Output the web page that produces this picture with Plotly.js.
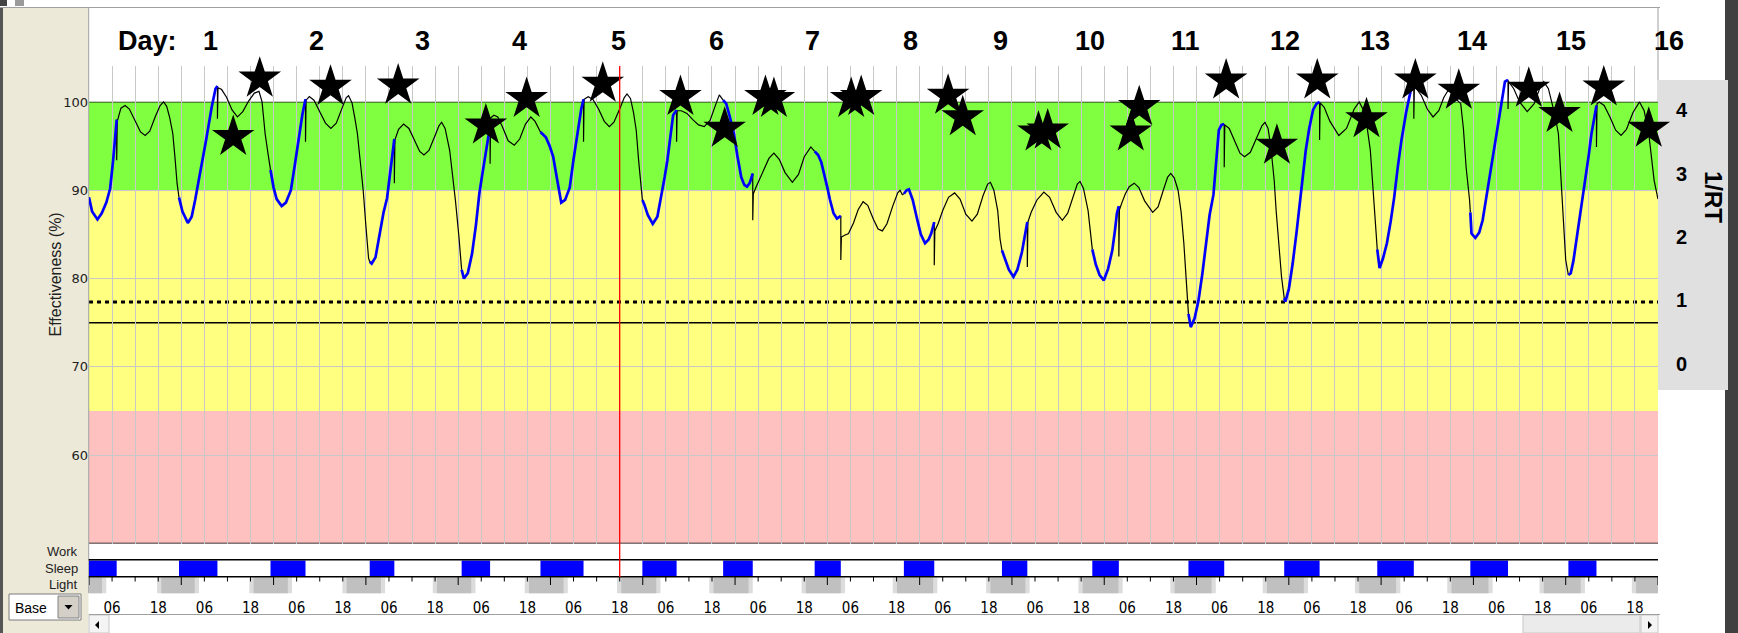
<!DOCTYPE html>
<html><head><meta charset="utf-8">
<script src="https://cdn.plot.ly/plotly-3.0.1.min.js"></script>
<style>html,body{margin:0;padding:0;background:#fff;}#chart{width:1738px;height:633px;}</style>
</head><body><div id="chart"></div>
<script>
// ---------------- data ----------------
const curveHours = [
0,0.8,2.2,3.3,4.5,5.5,6.3,7.0,7.2, 7.2,7.35,
8.3,9.4,10.5,12,13.4,14.6,15.8,17.2,18.5,19.4,20.2,21.0,21.8,22.4,22.9,23.4,
24.3,25.7,26.7,27.6,28.6,29.5,30.5,31.9,32.9,33.4, 33.4,33.55,
34.5,35.8,37.2,38.6,40.0,41.5,43.0,44.2,45.0,45.8,46.6,47.2,
48.0,48.8,50.1,51.2,52.5,53.5,54.5,55.5,56.3, 56.3,56.45,
57.3,58.5,60.0,61.5,62.9,64.3,65.8,66.9,67.5,68.4,69.2,69.8,70.6,71.3,72.0,72.7,73.0,
73.5,74.5,75.6,76.6,77.5,78.4,79.4, 79.4,79.55,
80.5,81.8,83.2,84.7,86.0,87.1,88.4,90.0,91.0,91.7,92.6,93.8,94.6,95.3,96.2,96.9,
97.5,98.5,99.6,100.6,101.5,102.2,102.9,103.9,104.3, 104.3,104.45,
105.3,106.3,107.5,109.0,110.6,112.0,113.5,114.9,116.0,117.4,
118.8,119.8,120.7,121.7,122.8,123.8,125.0,126.0,127.2,128.0,128.6, 128.6,128.75,
129.8,131.0,132.5,134.0,135.3,136.5,138.0,139.2,139.9,140.8,141.6,142.3,142.9,143.5,143.9,
144.4,145.3,146.6,147.8,149.0,149.7,150.4,151.2,151.9,152.8, 152.8,152.95,
154.0,155.5,157.0,158.5,160.0,161.5,162.8,163.9,164.9,
165.7,166.6,167.7,168.6,169.6,170.4,171.1,171.8,172.6, 172.6,172.75,
173.5,174.4,175.4,176.8,178.1,179.5,181.0,182.9,184.5,186.0,187.7,188.7,
189.6,190.4,191.2,192.0,192.7,193.6,194.5,195.5, 195.5,195.65,
196.5,197.5,198.8,200.0,201.3,202.5,204.0,205.2,206.3,207.5,209.0,210.3,210.9,211.5,211.9,
212.6,213.2,214.2,215.2,216.3,217.4,218.3,219.0,219.8, 219.8,219.95,
220.8,222.0,223.5,225.1,226.5,228.0,229.6,231.0,232.5,233.7,234.4,235.3,236.3,236.9,237.4,
238.2,239.2,240.4,241.4,242.6,243.3,244.0, 244.0,244.15,
245.0,246.5,248.3,249.8,251.5,253.1,254.5,256.0,257.0,257.7,258.6,259.8,260.4,260.9,
261.8,262.8,263.9,265.0,266.1,266.8,267.3,267.8, 267.8,267.95,
268.6,269.5,270.5,271.8,273.0,274.5,276.6,278.0,279.5,280.5,281.3,282.2,283.2,284.0,284.7,285.4,285.9,
286.5,287.5,288.5,289.5,290.4,291.4,292.4,293.1,293.8,294.5,295.2, 295.2,295.35,
296.5,298.0,299.3,300.5,302.0,303.5,305.0,305.8,306.6,307.3,308.2,308.7,309.4,310.1,310.8,
311.1,312.0,313.0,314.0,314.9,315.6,316.4,317.3,318.3,319.2,320.0, 320.0,320.15,
321.2,322.7,325.0,327.0,329.0,330.3,331.5,332.4,333.2,334.1,334.6,335.0,
335.6,336.5,337.5,338.5,339.4,340.3,341.3,342.5,343.7,344.5, 344.5,344.65,
345.2,346.5,348.0,349.5,351.0,352.3,353.4,354.5,355.6,356.7,357.4,358.1,359.0,359.2,
359.5,360.5,361.5,362.4,363.3,364.3,365.3,366.3,367.3,368.2,369.0, 369.0,369.15,
370.5,372.0,374.0,375.8,377.2,378.3,379.5,380.3,381.2,382.1,383.1,384.0,384.7,
385.3,386.0,386.9,388.1,389.3,390.0,390.7,391.4,392.0, 392.0,392.15,
392.7,394.0,395.5,397.0,398.4,399.8,401.5,403.2,404.4,405.6,407.0,408.0
];
const curveEffectiveness = [
89.2,87.6,86.7,87.4,88.6,90.2,93.5,96.8,98.0, 93.4,97.8,
99.3,99.6,99.2,97.9,96.6,96.2,96.7,98.3,99.6,100.0,99.5,98.2,96.4,93.5,90.8,89.2,
87.6,86.3,87.0,88.9,91.2,93.5,95.8,99.4,101.5,101.8, 98.1,101.6,
101.4,100.5,99.1,98.3,98.9,100.1,101.0,101.2,100.0,96.4,94.0,92.3,
90.3,89.0,88.2,88.6,90.0,92.8,95.8,98.6,100.3, 95.5,100.2,
100.6,100.2,98.9,97.6,97.0,97.6,99.3,100.5,100.7,99.9,98.0,96.4,93.0,90.0,86.0,82.3,81.9,
81.7,82.4,85.3,87.5,89.1,92.4,95.8, 90.8,95.7,
96.9,97.5,97.0,95.5,94.4,94.0,94.5,96.2,97.3,97.7,97.0,94.5,91.5,88.8,84.7,81.0,
80.0,80.6,82.8,86.0,89.6,91.6,93.4,96.2,98.0, 93.0,98.2,
98.5,98.3,97.2,95.6,95.1,95.8,97.5,98.3,97.8,96.6,
96.0,95.0,93.8,91.3,88.6,88.9,90.3,93.5,97.2,99.2,100.3, 95.5,100.3,
100.6,100.3,99.2,97.8,97.2,97.7,99.2,100.5,100.9,100.4,98.8,96.8,93.5,90.5,88.9,
88.4,87.2,86.2,87.0,89.6,91.5,93.4,96.3,98.5,99.1, 95.5,99.0,
99.0,98.7,98.0,97.4,97.2,97.9,99.5,100.8,100.2,
99.8,98.4,96.4,93.9,91.5,90.6,90.4,90.8,91.9, 86.6,89.6,
90.4,91.3,92.3,93.6,94.2,93.5,92.0,90.9,91.8,93.8,94.9,94.4,
94.0,93.2,91.9,90.3,88.9,87.4,86.8,87.1, 82.1,84.7,
84.9,85.1,86.3,87.8,88.7,88.3,86.7,85.6,85.4,86.2,88.2,89.7,90.0,89.5,89.6,
90.0,90.1,88.9,87.0,85.0,84.0,84.4,85.1,86.4, 81.5,85.4,
86.2,87.7,89.2,89.7,89.0,87.3,86.5,87.3,89.4,90.7,90.9,90.0,87.7,84.5,83.2,
82.3,81.0,80.2,81.0,83.0,84.8,86.4, 81.3,86.4,
87.5,88.9,89.8,89.2,87.5,86.6,87.4,89.5,90.7,91.0,90.2,87.7,85.0,83.3,
81.6,80.4,79.8,81.1,83.2,85.5,87.4,88.2, 82.5,87.8,
88.6,89.6,90.4,90.8,90.3,88.8,87.5,88.1,90.2,91.5,91.9,91.4,90.0,87.5,84.0,79.5,76.0,
74.5,75.5,77.5,80.5,84.0,87.2,89.5,93.0,96.8,97.4,97.5, 92.6,97.4,
97.0,95.5,94.2,93.8,94.3,95.8,97.3,97.7,97.0,95.0,91.1,87.7,84.0,80.2,77.8,
77.4,78.8,81.7,85.2,88.9,91.8,94.5,97.0,99.1,99.8,100.0, 95.7,99.9,
99.4,97.8,96.2,97.0,99.2,100.0,99.0,97.0,94.5,88.9,85.8,83.3,
81.2,82.3,84.0,86.5,89.2,92.5,95.7,98.8,101.3,101.7, 98.1,101.6,
101.5,100.7,99.2,98.3,99.0,100.5,101.3,101.0,100.3,99.8,97.0,92.6,88.9,87.5,
85.1,84.6,85.2,86.6,89.0,91.5,94.5,97.2,100.0,102.3,102.5, 99.2,102.3,
101.5,100.0,98.9,99.8,101.5,102.3,101.5,100.0,98.5,96.4,88.9,82.1,80.4,
80.6,82.0,84.7,88.0,91.5,94.0,96.4,98.3,99.6, 94.9,99.8,
100.0,99.6,98.3,96.8,96.2,96.9,98.8,100.0,99.0,96.4,91.1,89.0
];
const sleepStart = [0,23.4,47.2,73.0,96.9,117.4,143.9,164.9,188.7,211.9,237.4,260.9,285.9,310.8,335.0,359.2,384.7];
const sleepEnd   = [7.2,33.4,56.3,79.4,104.3,128.6,152.8,172.6,195.5,219.8,244.0,267.8,295.2,320.0,344.5,369.0,392.0];
const nightStart = [-6,18.8,42.8,67.0,90.5,114.4,138.4,162.4,186.4,210.1,234.4,258.4,282.3,306.3,330.3,354.3,378.3,402.3];
const nightEnd   = [3.4,27.5,51.7,75.9,99.4,123.4,147.5,171.5,195.5,219.5,243.5,267.7,291.9,315.9,339.9,363.9,387.9,412];
const twilightHours = 1.1;
const starHours = [37.5,44.4,62.8,80.4,103.2,113.8,133.6,153.8,165.3,175.9,178.1,198.2,200.8,223.4,227.2,246.9,249.3,270.9,273.1,295.7,308.9,319.4,332.2,344.9,356.2,374.4,382.4,393.9,405.6];
const starRT    = [3.58,4.50,4.37,4.39,3.76,4.18,4.42,4.21,3.71,4.21,4.18,4.18,4.21,4.23,3.89,3.65,3.68,3.65,4.05,4.47,3.44,4.47,3.86,4.47,4.31,4.34,3.94,4.36,3.71];
const dayLabels = ['1','2','3','4','5','6','7','8','9','10','11','12','13','14','15','16'];
const dayLabelHours = [31.6,59.1,86.6,112.0,137.8,163.1,188.1,213.6,237.0,260.3,285.2,311.1,334.4,359.7,385.3,410.9];
const dayWordHour = 15.1;
const effTicks = [60,70,80,90,100];
const rtTicks = [0,1,2,3,4];
const bandGreen = [90,100], bandYellow = [65,90], bandRed = [50,65];
const criterionDotted = 77.35, criterionSolid = 75;
const currentHour = 138;
const hourMax = 408;

// -------------- geometry helpers (pixels -> paper) --------------
const W = 1738, H = 633, L = 89, R = 1658;
const px = x => (x - L) / (R - L);
const py = y => 1 - y / H;

// -------------- traces --------------
function asleep(t){ for(let i=0;i<sleepStart.length;i++){ if(t>=sleepStart[i] && t<sleepEnd[i]) return true; } return false; }
const seg = {black:{x:[],y:[]}, blue:{x:[],y:[]}};
let prev = null;
for(let i=0;i<curveHours.length-1;i++){
  const mid = (curveHours[i]+curveHours[i+1])/2;
  const c = asleep(mid) ? 'blue' : 'black';
  const s = seg[c];
  if(c!==prev){ if(s.x.length){ s.x.push(null); s.y.push(null);} s.x.push(curveHours[i]); s.y.push(curveEffectiveness[i]); }
  s.x.push(curveHours[i+1]); s.y.push(curveEffectiveness[i+1]);
  prev = c;
}
const tickHours = [], tickText = [];
for(let t=6;t<hourMax;t+=12){ tickHours.push(t); tickText.push(t%24===6?'06':'18'); }

const data = [
  {x:seg.black.x, y:seg.black.y, mode:'lines', line:{color:'#000', width:1.2}, hoverinfo:'skip', connectgaps:false},
  {x:seg.blue.x, y:seg.blue.y, mode:'lines', line:{color:'#0000FF', width:2.7}, hoverinfo:'skip', connectgaps:false},
  {x:starHours, y:starRT, yaxis:'y2', mode:'markers', cliponaxis:false,
   marker:{symbol:'star', size:32, color:'#000', line:{width:0}}, hoverinfo:'skip'},
  {x:[null], y:[null], xaxis:'x2', yaxis:'y', mode:'markers', hoverinfo:'skip'}
];

// -------------- shapes --------------
const shapes = [];
function rectP(x0,x1,y0,y1,fill,line){ shapes.push({type:'rect',xref:'paper',yref:'paper',x0:px(x0),x1:px(x1),y0:py(y1),y1:py(y0),fillcolor:fill,line:line||{width:0},layer:'below'}); }
function lineP(x0,y0,x1,y1,color,w,layer){ shapes.push({type:'line',xref:'paper',yref:'paper',x0:px(x0),x1:px(x1),y0:py(y0),y1:py(y1),line:{color:color,width:w},layer:layer||'below'}); }
// window chrome
rectP(0,88.5,8,633,'#ECE9D8');
rectP(0,3,8,633,'#555555');
rectP(0,7,0,6,'#444444');
rectP(15,24,0,6,'#9a9a9a');
lineP(0,7.5,1660,7.5,'#a0a0a0',1);
rectP(1725,1738,0,633,'#404040');
rectP(1657,1728,80,390,'#E0E0E0');
// bands
[[bandRed,'#FFC0C0'],[bandYellow,'#FFFF80'],[bandGreen,'#80FF40']].forEach(([b,c])=>{
  shapes.push({type:'rect',xref:'paper',yref:'y',x0:0,x1:1,y0:b[0],y1:b[1],fillcolor:c,line:{width:0},layer:'below'});
});
// reference lines
function hline(v,color,w,dash){ shapes.push({type:'line',xref:'paper',yref:'y',x0:0,x1:1,y0:v,y1:v,line:{color:color,width:w,dash:dash||'solid'},layer:'between'}); }
hline(100,'#000',1);
hline(criterionSolid,'#000',1.5);
hline(criterionDotted,'#000',3,'4px,4px');
hline(50,'#000',1.5);
// plot borders
lineP(88.7,8,88.7,593,'#a0a0a0',1);
lineP(1658,8,1658,80,'#a0a0a0',1);
// strip rows
for(let i=0;i<nightStart.length;i++){
  shapes.push({type:'rect',xref:'x',yref:'paper',x0:nightStart[i]-twilightHours,x1:nightEnd[i]+twilightHours,y0:py(593.3),y1:py(577.5),fillcolor:'#DCDCDC',line:{width:0},layer:'below'});
  shapes.push({type:'rect',xref:'x',yref:'paper',x0:nightStart[i],x1:nightEnd[i],y0:py(593.3),y1:py(577.5),fillcolor:'#C0C0C0',line:{width:0},layer:'below'});
}
for(let i=0;i<sleepStart.length;i++){
  shapes.push({type:'rect',xref:'x',yref:'paper',x0:sleepStart[i],x1:sleepEnd[i],y0:py(576.3),y1:py(560.5),fillcolor:'#0000FF',line:{width:0},layer:'below'});
}
lineP(88.7,559.8,1658,559.8,'#000',1.5,'above');
lineP(88.7,576.8,1658,576.8,'#000',1.5,'above');
for(let t=0;t<=hourMax;t+=6){
  const len = (t%24===0) ? 8 : 4.5;
  shapes.push({type:'line',xref:'x',yref:'paper',x0:t,x1:t,y0:py(577),y1:py(577+len),line:{color:'#000',width:1},layer:'above'});
}
// current time marker
shapes.push({type:'line',xref:'x',yref:'paper',x0:currentHour,x1:currentHour,y0:py(577),y1:py(66),line:{color:'#FF0000',width:1.3},layer:'above'});
// scrollbar
lineP(88.7,614.5,1660,614.5,'#a0a0a0',1,'above');
rectP(89,109,615,633,'#F4F4F4',{color:'#c8c8c8',width:1});
rectP(1523,1640,615,633,'#EBEBEB',{color:'#c8c8c8',width:1});
rectP(1641,1658,615,633,'#F4F4F4',{color:'#c8c8c8',width:1});
function tri(pts){ shapes.push({type:'path',xref:'paper',yref:'paper',path:'M'+pts.map(p=>px(p[0])+','+py(p[1])).join('L')+'Z',fillcolor:'#000',line:{width:0},layer:'above'}); }
tri([[95,625],[99,621],[99,629]]);
tri([[1652,625],[1648,621],[1648,629]]);
// Base combo
rectP(9,81,594,620,'#FFFFFF',{color:'#7a7a7a',width:1});
rectP(58,79,596,618,'#D4D0C8',{color:'#808080',width:1});
tri([[64.5,605],[72.5,605],[68.5,609.5]]);

// -------------- annotations --------------
const ann = [];
const uiFont = 'Liberation Sans, Arial, sans-serif';
ann.push({xref:'paper',yref:'paper',x:(dayWordHour)/hourMax,y:py(41),text:'Day:',showarrow:false,xanchor:'center',yanchor:'middle',font:{family:uiFont,size:27,weight:'bold',color:'#000'}});
dayLabels.forEach((d,i)=>ann.push({xref:'paper',yref:'paper',x:dayLabelHours[i]/hourMax,y:py(41),text:d,showarrow:false,xanchor:'center',yanchor:'middle',font:{family:uiFont,size:27,weight:'bold',color:'#000'}}));
ann.push({xref:'paper',yref:'paper',x:px(54.5),y:py(275),text:'Effectiveness (%)',textangle:-90,showarrow:false,xanchor:'center',yanchor:'middle',font:{family:uiFont,size:16,color:'#222'}});
ann.push({xref:'paper',yref:'paper',x:px(1714),y:py(197),text:'1/RT',textangle:90,showarrow:false,xanchor:'center',yanchor:'middle',font:{family:uiFont,size:24,weight:'bold',color:'#000'}});
[['Work',551],['Sleep',568],['Light',584.5]].forEach(([t,y])=>ann.push({xref:'paper',yref:'paper',x:px(80),y:py(y),text:t,showarrow:false,xanchor:'right',yanchor:'middle',font:{family:uiFont,size:13,color:'#222'}}));
ann.push({xref:'paper',yref:'paper',x:px(13),y:py(607.5),text:'Base',showarrow:false,xanchor:'left',yanchor:'middle',font:{family:uiFont,size:14,color:'#000'}});

const layout = {
  width:W, height:H, margin:{l:L,r:W-R,t:0,b:0,pad:0},
  paper_bgcolor:'#FFFFFF', plot_bgcolor:'rgba(0,0,0,0)', showlegend:false,
  font:{family:uiFont,color:'#000'},
  xaxis:{range:[0,hourMax],anchor:'y',showgrid:true,gridcolor:'#C8C8C8',gridwidth:1,tick0:0,dtick:6,
         showticklabels:false,ticks:'',zeroline:false,showline:false,fixedrange:true},
  xaxis2:{range:[0,hourMax],overlaying:'x',anchor:'free',position:py(597),side:'bottom',tickmode:'array',
          tickvals:tickHours,ticktext:tickText,ticks:'',showgrid:false,zeroline:false,showline:false,
          tickfont:{family:'Liberation Sans Narrow, DejaVu Sans Condensed, Arial Narrow, sans-serif',size:15,color:'#000'}},
  yaxis:{domain:[py(543.5),py(66)],range:[50,104.07],tickmode:'array',tickvals:effTicks,showgrid:true,gridcolor:'#C8C8C8',
         ticks:'',zeroline:false,showline:false,automargin:false,
         tickfont:{family:'DejaVu Sans, sans-serif',size:13,color:'#222'}},
  yaxis2:{overlaying:'y',side:'right',anchor:'x',range:[-2.842,4.698],tickmode:'array',tickvals:rtTicks,showgrid:false,
          zeroline:false,showline:false,ticks:'',ticklabelstandoff:17,automargin:false,
          tickfont:{family:uiFont,size:20,weight:'bold',color:'#000'}},
  shapes:shapes, annotations:ann
};
Plotly.newPlot('chart', data, layout, {staticPlot:true, displayModeBar:false});
</script>
</body></html>
